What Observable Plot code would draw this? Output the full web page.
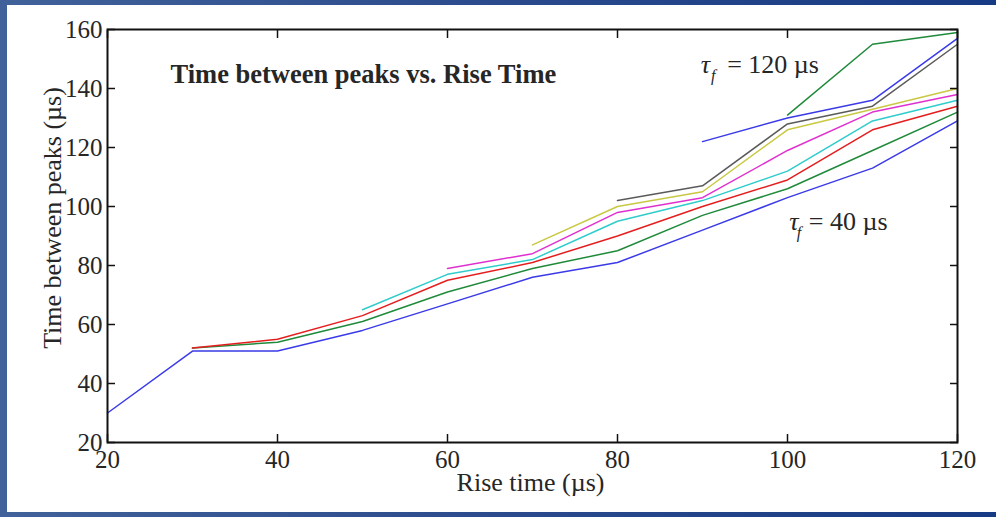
<!DOCTYPE html>
<html>
<head>
<meta charset="utf-8">
<script src="https://cdn.jsdelivr.net/npm/d3@7"></script>
<script src="https://cdn.jsdelivr.net/npm/@observablehq/plot@0.6"></script>
<style>
  html, body { margin: 0; padding: 0; }
  #frame { position: relative; width: 996px; height: 517px; overflow: hidden;
           background: linear-gradient(to right, #41619a 0%, #2a4a8c 50%, #173a84 100%); }
  #paper { position: absolute; left: 7px; top: 5px; width: 989px; height: 507px; background: #ffffff; }
  #chart { position: absolute; left: 0; top: 0; }
</style>
</head>
<body>
<div id="frame"><div id="paper"></div><div id="chart"></div></div>
<script>
// Rise time (µs) — x values
const riseTime = [20, 30, 40, 50, 60, 70, 80, 90, 100, 110, 120];
// fall time constants τf (µs), one series each
const tauF = [40, 50, 60, 70, 80, 90, 100, 110, 120];
// Time between peaks (µs) for each τf
const tau40  = [30, 51, 51, 58, 67, 76, 81, 92, 103, 113, 129];
const tau50  = [null, 52, 54, 61, 71, 79, 85, 97, 106, 119, 132];
const tau60  = [null, 52, 55, 63, 75, 81, 90, 100, 109, 126, 134];
const tau70  = [null, null, null, 65, 77, 82, 95, 102, 112, 129, 136];
const tau80  = [null, null, null, null, 79, 84, 98, 103, 119, 132, 138];
const tau90  = [null, null, null, null, null, 87, 100, 105, 126, 133, 140];
const tau100 = [null, null, null, null, null, null, 102, 107, 128, 134, 155];
const tau110 = [null, null, null, null, null, null, null, 122, 130, 136, 157];
const tau120 = [null, null, null, null, null, null, null, null, 131, 155, 159];
const seriesValues = [tau40, tau50, tau60, tau70, tau80, tau90, tau100, tau110, tau120];

// axis ticks
const xTicks = [20, 40, 60, 80, 100, 120];
const yTicks = [20, 40, 60, 80, 100, 120, 140, 160];

// texts
const titleText = "Time between peaks vs. Rise Time";
const xLabel = "Rise time (µs)";
const yLabel = "Time between peaks (µs)";
const annoLabels = ["= 120 µs", "= 40 µs"];
const annoTauX = [89.8, 100.2];
const annoSubX = [91.0, 101.1];
const annoEqX = [92.9, 102.5];
const annoY = [145.1, 91.9];

const seriesColors = ["#3a3ae8", "#1f8a3a", "#e41e1e", "#2fcccc", "#e030d0", "#c9c843", "#5a5a5a", "#3a3ae8", "#1f8a3a"];

const rows = [];
seriesValues.forEach((vals, k) => {
  vals.forEach((v, i) => { if (v != null) rows.push({tau: tauF[k], rise: riseTime[i], gap: v}); });
});
const annos = annoLabels.map((t, i) => ({t, tx: annoTauX[i], sx: annoSubX[i], ex: annoEqX[i], y: annoY[i]}));

const font = "'Liberation Serif', 'Times New Roman', serif";
const ink = "#262626";

const chart = Plot.plot({
  width: 996,
  height: 517,
  marginLeft: 107,
  marginRight: 39,
  marginTop: 29,
  marginBottom: 75,
  x: {domain: [20, 120]},
  y: {domain: [20, 160]},
  color: {domain: tauF, range: seriesColors},
  style: {fontFamily: font, fontSize: "24px", color: ink, background: "transparent", overflow: "visible"},
  marks: [
    Plot.line(rows, {x: "rise", y: "gap", z: "tau", stroke: "tau", strokeWidth: 1.5}),
    Plot.frame({stroke: "#111", strokeWidth: 2}),
    Plot.axisX(xTicks, {anchor: "bottom", tickSize: -8, tickPadding: 16, label: null, fontSize: 25, stroke: "#111", strokeWidth: 1.5, fill: ink}),
    Plot.axisX(xTicks, {anchor: "top", tickSize: -8, label: null, fill: "none", stroke: "#111", strokeWidth: 1.5}),
    Plot.axisY(yTicks, {anchor: "left", tickSize: -8, tickPadding: 13, label: null, fontSize: 25, stroke: "#111", strokeWidth: 1.5, fill: ink}),
    Plot.axisY(yTicks, {anchor: "right", tickSize: -8, label: null, fill: "none", stroke: "#111", strokeWidth: 1.5}),
    Plot.text([titleText], {frameAnchor: "top-left", textAnchor: "start", lineAnchor: "bottom", dx: 63, dy: 53, fontSize: 26.5, fontWeight: "bold", fill: ink}),
    Plot.text([xLabel], {frameAnchor: "bottom", textAnchor: "middle", lineAnchor: "bottom", dx: -2, dy: 48, fontSize: 26, fill: ink}),
    Plot.text([yLabel], {frameAnchor: "left", textAnchor: "middle", rotate: -90, lineAnchor: "middle", dx: -55, dy: -18, fontSize: 26, fill: ink}),
    Plot.text(annos, {x: "tx", y: "y", text: () => "τ", textAnchor: "start", lineAnchor: "bottom", fontSize: 26, fontStyle: "italic", fill: ink}),
    Plot.text(annos, {x: "sx", y: "y", text: () => "f", textAnchor: "start", lineAnchor: "bottom", dy: 8, fontSize: 16, fontStyle: "italic", fill: ink}),
    Plot.text(annos, {x: "ex", y: "y", text: "t", textAnchor: "start", lineAnchor: "bottom", fontSize: 26, fill: ink})
  ]
});
document.getElementById("chart").appendChild(chart);
</script>
</body>
</html>
